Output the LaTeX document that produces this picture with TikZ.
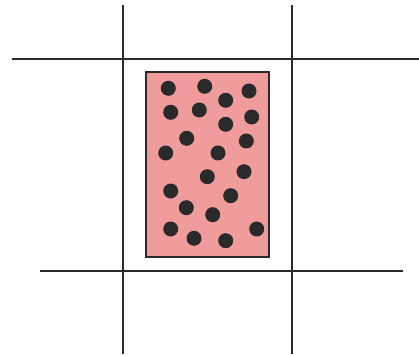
\documentclass[tikz,border=0pt]{standalone}
\usepackage{xcolor}
\usepackage{tikz}
\usetikzlibrary{calc}
\definecolor{cellpink}{HTML}{F09C9C}
\definecolor{inkgrey}{HTML}{2A2A2A}

\begin{document}
\begin{tikzpicture}[x=1pt,y=-1pt,
    gridline/.style={line width=1.8pt,inkgrey},
    dot/.style={fill=inkgrey}]
  \useasboundingbox (0,0) rectangle (419,355);

  % Grid lines
  \draw[gridline] (123.3,5) -- (123.3,354);
  \draw[gridline] (291.7,5) -- (291.7,354);
  \draw[gridline] (11.7,59.3) -- (419,59.3);
  \draw[gridline] (40.3,271.3) -- (403.3,271.3);

  % Box
  \coordinate (TL) at (146.3,72.3);
  \coordinate (BR) at (269.3,257.3);
  \fill[cellpink] (TL) rectangle (BR);
  \draw[line width=1.8pt,inkgrey] (TL) rectangle (BR);

  % Dots
  \foreach \px/\py in {168.3/88.3, 204.7/86.3, 225.7/100.3, 249/91,
      170.7/112.3, 199.3/110, 225.7/124.3, 251.7/117,
      186.7/138.3, 246.3/141, 165.7/153, 218/153,
      207.3/176.7, 244/171.7, 170.7/191, 230.7/195.7,
      186.3/207.7, 212.7/214.7, 170.7/229, 256.7/229,
      194/238.3, 225.7/240.7}
    \fill[dot] (\px,\py) circle (7.5);
\end{tikzpicture}
\end{document}
